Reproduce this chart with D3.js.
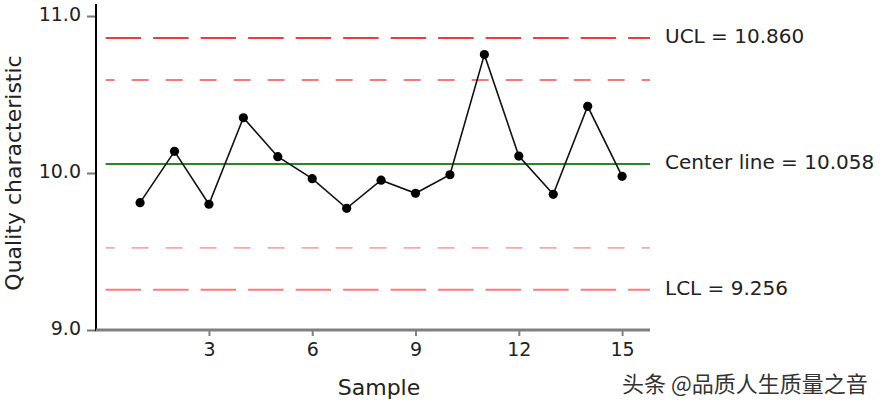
<!DOCTYPE html>
<html>
<head>
<meta charset="utf-8">
<script src="https://cdn.jsdelivr.net/npm/d3@7/dist/d3.min.js"></script>
<style>
  html, body { margin: 0; padding: 0; background: #fff; }
  svg { display: block; font-family: "DejaVu Sans", sans-serif; }
</style>
</head>
<body>
<svg id="chart" width="883" height="411"></svg>
<script>
// ---- data ----
const samples = [1, 2, 3, 4, 5, 6, 7, 8, 9, 10, 11, 12, 13, 14, 15];
const values = [9.811, 10.138, 9.801, 10.352, 10.104, 9.964, 9.775, 9.954,
                9.871, 9.989, 10.754, 10.108, 9.864, 10.425, 9.979];
const xTicks = [3, 6, 9, 12, 15];
const yTicks = [9.0, 10.0, 11.0];
const centerLine = 10.058;
const ucl = 10.860;
const lcl = 9.256;
const controlLabels = ["UCL = 10.860", "Center line = 10.058", "LCL = 9.256"];
const watermark = "头条 @品质人生质量之音";

// ---- layout ----
const svg = d3.select("#chart");
const x = d3.scaleLinear().domain([-0.28, 15.81]).range([96, 650]);
const y = d3.scaleLinear().domain([9, 11]).range([330, 16]);
const sigma = (ucl - centerLine) / 3;

// reference lines
const refLines = [
  { v: ucl, color: "#f23a3a", w: 2, dash: "35.5,12", offset: 0 },
  { v: centerLine + 2 * sigma, color: "#f77a7a", w: 2, dash: "17,17", offset: 8 },
  { v: centerLine, color: "#238b23", w: 2, dash: null, offset: 0 },
  { v: centerLine - 2 * sigma, color: "#fca6a6", w: 1.6, dash: "17,17", offset: 8 },
  { v: lcl, color: "#f67c7c", w: 2, dash: "35.5,12", offset: 0 }
];
svg.append("g").selectAll("line").data(refLines).join("line")
  .attr("x1", x(0)).attr("x2", x(15.81))
  .attr("y1", d => y(d.v)).attr("y2", d => y(d.v))
  .attr("stroke", d => d.color)
  .attr("stroke-width", d => d.w)
  .attr("stroke-dasharray", d => d.dash)
  .attr("stroke-dashoffset", d => d.offset);

// data line + points
const line = d3.line().x((d, i) => x(samples[i])).y(d => y(d));
svg.append("path").datum(values)
  .attr("d", line).attr("fill", "none")
  .attr("stroke", "#111").attr("stroke-width", 1.6);
svg.append("g").selectAll("circle").data(values).join("circle")
  .attr("cx", (d, i) => x(samples[i])).attr("cy", d => y(d))
  .attr("r", 4.6).attr("fill", "#000");

// y axis
const yAxis = svg.append("g").attr("transform", "translate(96,0)")
  .call(d3.axisLeft(y).tickValues(yTicks).tickFormat(d3.format(".1f")).tickSize(9).tickPadding(6));
yAxis.select(".domain").remove();
yAxis.selectAll(".tick line").attr("stroke", "#777").attr("stroke-width", 2);
yAxis.selectAll(".tick text").attr("font-size", 19).attr("fill", "#222")
  .attr("font-family", "DejaVu Sans").attr("dy", "0.22em");
svg.append("line").attr("x1", 96).attr("x2", 96)
  .attr("y1", 4).attr("y2", y(9) + 1)
  .attr("stroke", "#000").attr("stroke-width", 2);

// x axis
const xAxis = svg.append("g").attr("transform", "translate(0,330)")
  .call(d3.axisBottom(x).tickValues(xTicks).tickSize(6).tickPadding(7));
xAxis.select(".domain").attr("stroke", "#808080").attr("stroke-width", 3)
  .attr("d", `M96,0H650`);
xAxis.selectAll(".tick line").attr("stroke", "#808080").attr("stroke-width", 2);
xAxis.selectAll(".tick text").attr("font-size", 19).attr("fill", "#222")
  .attr("font-family", "DejaVu Sans");

// axis titles
svg.append("text").attr("x", 379).attr("y", 395)
  .attr("text-anchor", "middle").attr("font-size", 22).attr("fill", "#222")
  .text("Sample");
svg.append("text")
  .attr("transform", "translate(21,173) rotate(-90)")
  .attr("text-anchor", "middle").attr("font-size", 22).attr("fill", "#222")
  .text("Quality characteristic");

// control labels
const labelVals = [ucl, centerLine, lcl];
svg.append("g").selectAll("text").data(labelVals).join("text")
  .attr("x", 665).attr("y", d => y(d)).attr("dy", "0.27em")
  .attr("font-size", 20).attr("fill", "#222")
  .text((d, i) => controlLabels[i]);

// watermark
svg.append("text").attr("x", 622).attr("y", 392)
  .attr("font-family", "Noto Sans CJK SC").attr("font-size", 22).attr("fill", "#333")
  .text(watermark);
</script>
</body>
</html>
